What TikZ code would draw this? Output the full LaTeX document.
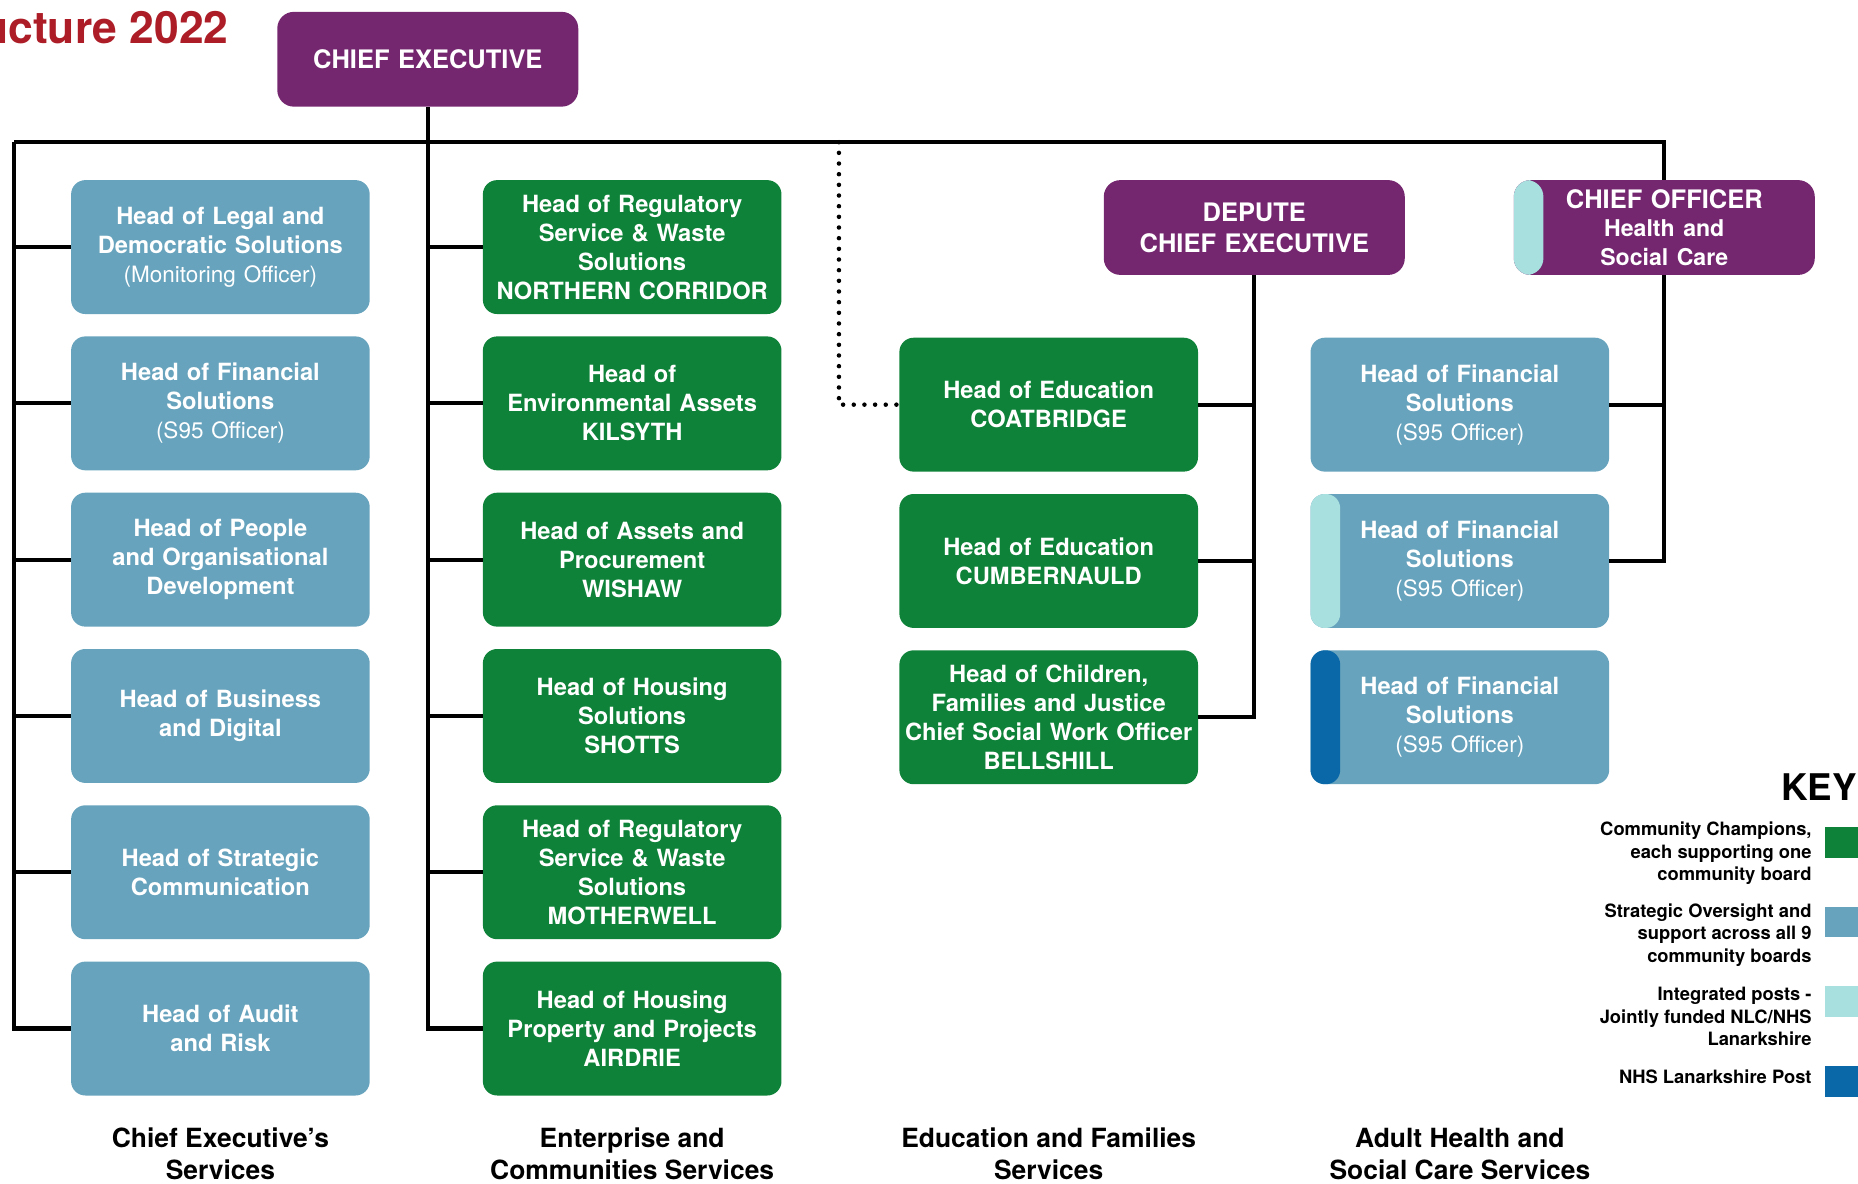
\documentclass[tikz,border=0pt]{standalone}
\usepackage{fontspec}
\setmainfont{TeX Gyre Heros}
\usetikzlibrary{positioning}
\definecolor{ncpurple}{RGB}{116,38,111}
\definecolor{ncgreen}{RGB}{14,130,56}
\definecolor{ncblue}{RGB}{103,163,189}
\definecolor{ncteal}{RGB}{168,223,223}
\definecolor{nhsblue}{RGB}{10,104,168}
\definecolor{ncred}{RGB}{172,29,39}
\newcommand{\lite}[1]{{\mdseries\fontsize{19}{24.5}\selectfont #1}}
\begin{document}
\begin{tikzpicture}[x=1pt,y=1pt,
  post/.style={rounded corners=12pt,minimum width=252pt,minimum height=113pt,text width=248pt,
    align=center,text=white,inner sep=0pt,font=\fontsize{20}{24.5}\selectfont\bfseries},
  oversight/.style={post,fill=ncblue},
  champion/.style={post,fill=ncgreen},
  chief/.style={post,fill=ncpurple,minimum width=254pt,minimum height=80pt,rounded corners=14pt,
    font=\fontsize{21.5}{26}\selectfont\bfseries},
  strip/.style={path picture={\fill[#1] (path picture bounding box.south west)
    rectangle ([xshift=25pt]path picture bounding box.north west);}},
  service/.style={align=center,font=\fontsize{22.3}{27}\selectfont\bfseries},
  keytext/.style={align=right,anchor=east,inner sep=0pt,font=\fontsize{15.5}{19}\selectfont\bfseries},
  swatch/.style={minimum width=28pt,minimum height=26pt,inner sep=0pt},
  conn/.style={line width=3.5pt},
  dotline/.style={line width=3.8pt,line cap=round,dash pattern=on 0pt off 9pt}]
\useasboundingbox (0,0) rectangle (1568,-999);

\node[anchor=base east,inner sep=0pt,text=ncred,font=\fontsize{37.5}{40}\selectfont\bfseries] (title) at (193,-37) {ucture 2022};
\node[chief] (ceo) at (361,-50) {CHIEF EXECUTIVE};
\node[chief] (depute) at (1058.5,-192) {DEPUTE\\CHIEF EXECUTIVE};
\node[chief,strip=ncteal,font=\fontsize{21.5}{24}\selectfont\bfseries] (cohsc) at (1404.5,-192)
  {CHIEF OFFICER\\{\fontsize{19.5}{24}\selectfont Health and\\Social Care}};

\node[oversight] (legal) at (186,-208.5) {Head of Legal and\\Democratic Solutions\\\lite{(Monitoring Officer)}};
\node[oversight,below=18.5pt of legal] (finance) {Head of Financial\\Solutions\\\lite{(S95 Officer)}};
\node[oversight,below=18.5pt of finance] (people) {Head of People\\and Organisational\\Development};
\node[oversight,below=18.5pt of people] (business) {Head of Business\\and Digital};
\node[oversight,below=18.5pt of business] (comms) {Head of Strategic\\Communication};
\node[oversight,below=18.5pt of comms] (audit) {Head of Audit\\and Risk};

\node[champion] (northern) at (533.5,-208.5) {Head of Regulatory\\Service \& Waste\\Solutions\\NORTHERN CORRIDOR};
\node[champion,below=18.5pt of northern] (kilsyth) {Head of\\Environmental Assets\\KILSYTH};
\node[champion,below=18.5pt of kilsyth] (wishaw) {Head of Assets and\\Procurement\\WISHAW};
\node[champion,below=18.5pt of wishaw] (shotts) {Head of Housing\\Solutions\\SHOTTS};
\node[champion,below=18.5pt of shotts] (motherwell) {Head of Regulatory\\Service \& Waste\\Solutions\\MOTHERWELL};
\node[champion,below=18.5pt of motherwell] (airdrie) {Head of Housing\\Property and Projects\\AIRDRIE};

\node[champion] (coatbridge) at (885,-341.5) {Head of Education\\COATBRIDGE};
\node[champion,below=18.5pt of coatbridge] (cumbernauld) {Head of Education\\CUMBERNAULD};
\node[champion,below=18.5pt of cumbernauld] (bellshill) {Head of Children,\\Families and Justice\\Chief Social Work Officer\\BELLSHILL};

\node[oversight] (hscA) at (1232,-341.5) {Head of Financial\\Solutions\\\lite{(S95 Officer)}};
\node[oversight,strip=ncteal,below=18.5pt of hscA] (hscB) {Head of Financial\\Solutions\\\lite{(S95 Officer)}};
\node[oversight,strip=nhsblue,below=18.5pt of hscB] (hscC) {Head of Financial\\Solutions\\\lite{(S95 Officer)}};

\coordinate (barL) at (12,-120);
\coordinate (barR) at (barL -| cohsc.north);
\coordinate (dotT) at (708,-120);
\draw[conn] (barL) -- (barR) -- (cohsc.north);
\draw[conn] (barL) |- (audit.west);
\foreach \n in {legal,finance,people,business,comms}
  \draw[conn] (barL |- \n.west) -- (\n.west);
\draw[conn] (ceo.south) |- (airdrie.west);
\foreach \n in {northern,kilsyth,wishaw,shotts,motherwell}
  \draw[conn] (ceo.south |- \n.west) -- (\n.west);
\draw[dotline] (dotT) |- (coatbridge.west);
\draw[conn] (depute.south) |- (bellshill.east);
\foreach \n in {coatbridge,cumbernauld}
  \draw[conn] (depute.south |- \n.east) -- (\n.east);
\draw[conn] (cohsc.south) |- (hscB.east);
\draw[conn] (cohsc.south |- hscA.east) -- (hscA.east);

\node[service] (secCE) at (186,-973.5) {Chief Executive’s\\Services};
\node[service] (secEC) at (533.5,-973.5) {Enterprise and\\Communities Services};
\node[service] (secEF) at (885,-973.5) {Education and Families\\Services};
\node[service] (secAH) at (1232,-973.5) {Adult Health and\\Social Care Services};

\node[anchor=east,inner sep=0pt,font=\fontsize{31}{31}\selectfont\bfseries] (key) at (1567,-664) {KEY};
\node[keytext] (keyA) at (1529,-720) {Community Champions,\\each supporting one\\community board};
\node[keytext] (keyB) at (1529,-789) {Strategic Oversight and\\support across all 9\\community boards};
\node[keytext] (keyC) at (1529,-858) {Integrated posts -\\Jointly funded NLC/NHS\\Lanarkshire};
\node[keytext] (keyD) at (1529,-909) {NHS Lanarkshire Post};
\node[swatch,fill=ncgreen] (swA) at (1554,-711) {};
\node[swatch,fill=ncblue] (swB) at (1554,-778) {};
\node[swatch,fill=ncteal] (swC) at (1554,-845) {};
\node[swatch,fill=nhsblue] (swD) at (1554,-913) {};
\end{tikzpicture}
\end{document}
